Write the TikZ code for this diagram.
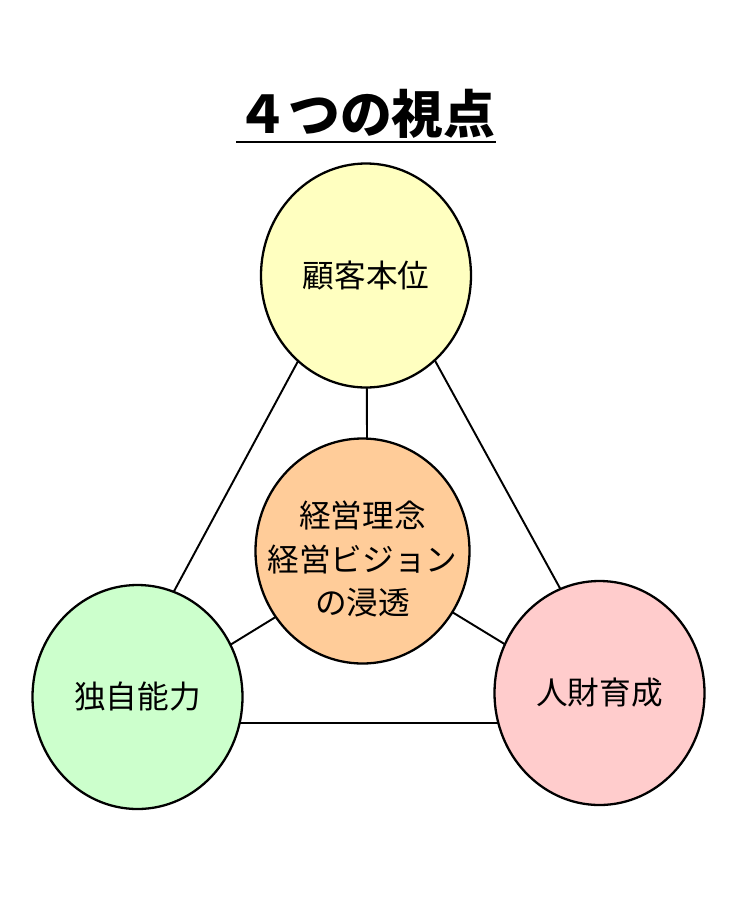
\documentclass[tikz,border=0pt]{standalone}
\usepackage{fontspec}
\setmainfont{Noto Sans CJK JP}
\usetikzlibrary{shapes.geometric}
\definecolor{custfill}{RGB}{255,255,192}
\definecolor{skillfill}{RGB}{204,255,204}
\definecolor{peoplefill}{RGB}{255,204,204}
\definecolor{corefill}{RGB}{255,204,153}
\begin{document}
\begin{tikzpicture}[
    view/.style={ellipse, draw=black, line width=1.3pt, minimum width=4.2cm,
                 minimum height=4.48cm, inner sep=0pt, font=\fontsize{18pt}{24pt}\selectfont},
    core/.style={ellipse, draw=black, line width=1.3pt, minimum width=4.28cm,
                 minimum height=4.5cm, inner sep=0pt},
    coretext/.style={align=center, inner sep=0pt, font=\fontsize{18pt}{24.5pt}\selectfont},
    link/.style={line width=1.1pt, black},
]
  \useasboundingbox (0,0) rectangle (14.7,-18.04);

  % Title
  \node[font=\fontsize{29.5pt}{32pt}\selectfont\bfseries, inner xsep=0pt, inner ysep=1pt] (title) at (7.32,-2.27) {４つの視点};
  \draw[line width=1.6pt] ([yshift=-1pt]title.south west) -- ([yshift=-1pt]title.south east);

  % Triangle corners and centre
  \coordinate (apex) at (7.32,-4.70);
  \coordinate (lv) at (2.06,-14.46);
  \coordinate (rv) at (12.68,-14.46);
  \coordinate (mid) at (7.353,-11.21);

  % Links behind the circles
  \draw[link] (apex) -- (lv) -- (rv) -- cycle;
  \foreach \v in {apex,lv,rv} {
    \draw[link] (mid) -- (\v);
  }

  % Circles
  \node[view, fill=custfill] (customer) at (7.32,-5.51) {顧客本位};
  \node[view, fill=skillfill] (skill) at (2.75,-13.94) {独自能力};
  \node[view, fill=peoplefill] (people) at (11.99,-13.86) {人財育成};
  \node[core, fill=corefill] (vision) at (7.25,-11.02) {};
  \node[coretext] (visiontext) at ([yshift=-0.16cm]vision.center)
    {経営理念\\経営ビジョン\\の浸透};

\end{tikzpicture}
\end{document}
